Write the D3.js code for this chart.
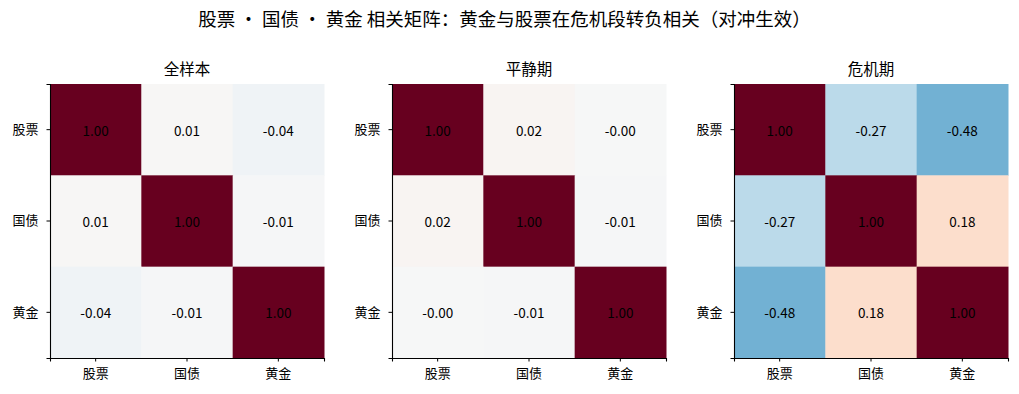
<!DOCTYPE html>
<html>
<head>
<meta charset="utf-8">
<script src="https://cdn.jsdelivr.net/npm/d3@7"></script>
<style>
  body { margin: 0; background: #fff; }
  text { font-family: "Noto Sans CJK SC", "Noto Sans", sans-serif; fill: #000; }
</style>
</head>
<body>
<div id="chart"></div>
<script>
// data
const assets = ["股票", "国债", "黄金"];
const panelTitles = ["全样本", "平静期", "危机期"];
const corrFull = [
  [1.00, 0.01, -0.04],
  [0.01, 1.00, -0.01],
  [-0.04, -0.01, 1.00]
];
const corrCalm = [
  [1.00, 0.02, -0.004],
  [0.02, 1.00, -0.01],
  [-0.004, -0.01, 1.00]
];
const corrCrisis = [
  [1.00, -0.27, -0.48],
  [-0.27, 1.00, 0.18],
  [-0.48, 0.18, 1.00]
];
const matrices = [corrFull, corrCalm, corrCrisis];

const W = 1019, H = 394;
const size = 274, left0 = 50, gap = 342, top0 = 84;

const svg = d3.select("#chart").append("svg")
  .attr("width", W).attr("height", H);

svg.append("text")
  .attr("x", W / 2 - 5).attr("y", 26)
  .attr("text-anchor", "middle")
  .style("font-size", "18.5px")
  .text("股票 · 国债 · 黄金 相关矩阵：黄金与股票在危机段转负相关（对冲生效）");

// RdBu_r, piecewise linear like matplotlib
const stops = d3.schemeRdBu[11];
const color = d3.scaleLinear()
  .domain(d3.range(11).map(i => 1 - i * 0.2))
  .range(stops)
  .interpolate(d3.interpolateRgb)
  .clamp(true);

matrices.forEach((m, p) => {
  const g = svg.append("g")
    .attr("transform", `translate(${left0 + p * gap},${top0})`);

  const x = d3.scaleBand().domain(assets).range([0, size]);
  const y = d3.scaleBand().domain(assets).range([0, size]);

  const cells = [];
  m.forEach((row, i) => row.forEach((v, j) => cells.push({ r: assets[i], c: assets[j], v })));

  g.selectAll("rect").data(cells).join("rect")
    .attr("x", d => x(d.c)).attr("y", d => y(d.r))
    .attr("width", x.bandwidth() + 0.5).attr("height", y.bandwidth() + 0.5)
    .attr("fill", d => color(d.v));

  g.selectAll("text.val").data(cells).join("text")
    .attr("class", "val")
    .attr("x", d => x(d.c) + x.bandwidth() / 2)
    .attr("y", d => y(d.r) + y.bandwidth() / 2)
    .attr("text-anchor", "middle")
    .attr("dominant-baseline", "central")
    .style("font-size", "13.5px")
    .text(d => d.v.toFixed(2));

  // axes: left and bottom only
  const ax = g.append("g").attr("transform", `translate(0,${size})`)
    .call(d3.axisBottom(x).tickSizeOuter(0).tickSize(3.5).tickPadding(7));
  const ay = g.append("g")
    .call(d3.axisLeft(y).tickSizeOuter(0).tickSize(3.5).tickPadding(8));
  [ax, ay].forEach(a => {
    a.select(".domain").attr("stroke", "#000").attr("stroke-width", 1.1);
    a.selectAll(".tick line").attr("stroke", "#000");
    a.selectAll(".tick text").style("font-size", "13px").attr("fill", "#000");
  });

  g.append("text")
    .attr("x", size / 2).attr("y", -9)
    .attr("text-anchor", "middle")
    .style("font-size", "15.5px")
    .text(panelTitles[p]);
});
</script>
</body>
</html>
